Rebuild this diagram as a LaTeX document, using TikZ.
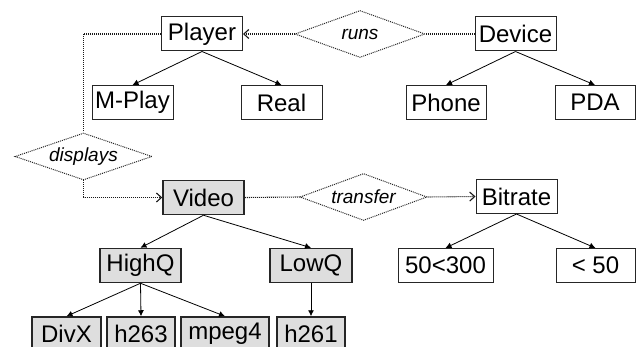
\documentclass[tikz,border=0pt]{standalone}
\usepackage{fontspec}
\setmainfont{Liberation Sans}
\usetikzlibrary{shapes.geometric,arrows.meta}
\begin{document}
\begin{tikzpicture}[x=1pt,y=-1pt,
  box/.style={draw=black!85,line width=1pt,minimum width=81pt,minimum height=34pt,inner sep=0pt,font=\fontsize{24}{26}\selectfont},
  gbox/.style={box,fill=black!13,draw=black!85,line width=1.5pt},
  rel/.style={diamond,draw=black!85,dash pattern=on 1pt off 1pt,line width=1pt,inner sep=0pt,aspect=2.8,minimum height=47pt,font=\fontsize{19}{20}\selectfont\itshape},
  dline/.style={draw=black!90,dash pattern=on 1pt off 1pt,line width=1.1pt},
  darr/.style={dline,-{Straight Barb[length=5pt,width=9pt,line width=1.1pt]}},
  sarr/.style={draw=black,line width=0.8pt,-{Latex[length=6pt,width=6pt]}}]
\useasboundingbox (0,0) rectangle (637,347);
% top-left tree
\node[box] (player) at (202,34) {Player};
\node[box] (mplay) at (132.5,102.5) {M-Play};
\node[box] (real) at (281.5,102.5) {Real};
% top-right tree
\node[box] (device) at (515.5,34) {Device};
\node[box,minimum width=80pt] (phone) at (446,102.5) {Phone};
\node[box,minimum width=80pt] (pda) at (595,102.5) {PDA};
% relations
\node[rel,minimum width=130pt] (runs) at (360,34) {runs};
\node[rel,minimum width=137pt] (displays) at (83.5,156.5) {displays};
\node[rel,minimum width=127pt] (transfer) at (363.5,197) {transfer};
% video tree
\node[gbox] (video) at (203.5,197.5) {Video};
\node[gbox] (highq) at (140.5,265.5) {HighQ};
\node[gbox,minimum width=82pt] (lowq) at (311,265.5) {LowQ};
\node[gbox,minimum width=69pt] (divx) at (66.5,334) {DivX};
\node[gbox,minimum width=68pt] (h263) at (141,334) {h263};
\node[gbox,minimum width=88pt] (mpeg4) at (225,334) {mpeg4};
\node[gbox,minimum width=68pt] (h261) at (311,334) {h261};
% bitrate tree
\node[box] (bitrate) at (516.5,196.5) {Bitrate};
\node[box,minimum width=95pt] (b1) at (445.5,265.5) {50<300};
\node[box,minimum width=79pt] (b2) at (595.5,265.5) {< 50};
% solid arrows
\draw[sarr] (player.south) -- (mplay.north);
\draw[sarr] (player.south) -- (real.north);
\draw[sarr] (device.south) -- (phone.north);
\draw[sarr] (device.south) -- (pda.north);
\draw[sarr] (video.south) -- (highq.north);
\draw[sarr] (video.south) -- (lowq.north);
\draw[sarr] (highq.south) -- (divx.north);
\draw[sarr] (highq.south) -- (h263.north);
\draw[sarr] (highq.south) -- (mpeg4.north);
\draw[sarr] (lowq.south) -- (h261.north);
\draw[sarr] (bitrate.south) -- (b1.north);
\draw[sarr] (bitrate.south) -- (b2.north);
% dotted connectors
\draw[dline] (device.west) -- (runs.east);
\draw[darr] (runs.west) -- (player.east);
\draw[dline] (player.west) -| (displays.north);
\draw[darr] (displays.south) |- (video.west);
\draw[dline] (video.east) -- (transfer.west);
\draw[darr] (transfer.east) -- (bitrate.west);
\end{tikzpicture}
\end{document}
